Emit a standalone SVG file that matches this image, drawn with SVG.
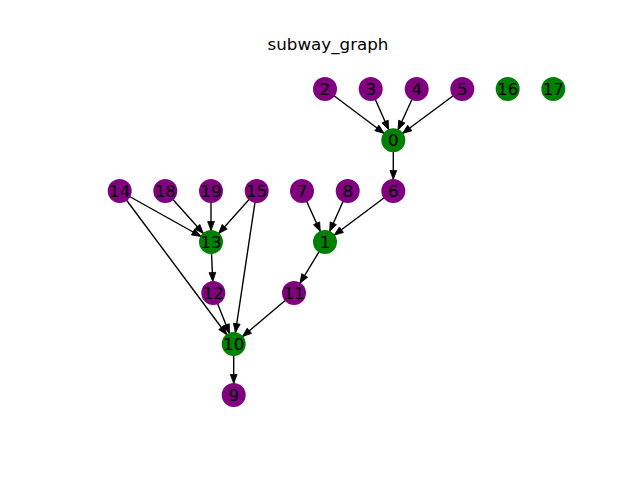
<svg xmlns="http://www.w3.org/2000/svg" width="640" height="480" viewBox="0 0 640 480">
  <style>
    .title { font-family: "DejaVu Sans", sans-serif; font-size: 16.7px; fill: #000; text-anchor: middle; }
    .edge { stroke: #000; stroke-width: 1.4; fill: none; marker-end: url(#arr); }
    .node circle { stroke: none; }
    .p circle { fill: #800080; }
    .g circle { fill: #008000; }
    .node text { font-family: "DejaVu Sans", sans-serif; font-size: 16.7px; fill: #000; text-anchor: middle; }
  </style>
  <defs>
    <!-- arrowhead sits on the node boundary (radius 12) -->
    <marker id="arr" markerUnits="userSpaceOnUse" markerWidth="30" markerHeight="10" refX="20.5" refY="0" orient="auto" overflow="visible">
      <path d="M0,-3.4 L9,0 L0,3.4 z" fill="#000" stroke="#000" stroke-width="0.8" stroke-linejoin="miter"/>
    </marker>
  </defs>
  <rect width="640" height="480" fill="#fff"/>
  <text class="title" x="328" y="50">subway_graph</text>

  <g id="edges">
    <line class="edge" x1="325" y1="89" x2="393.3" y2="140.3"/>
    <line class="edge" x1="370.7" y1="89" x2="393.3" y2="140.3"/>
    <line class="edge" x1="416.7" y1="89" x2="393.3" y2="140.3"/>
    <line class="edge" x1="462.3" y1="89" x2="393.3" y2="140.3"/>
    <line class="edge" x1="393.3" y1="140.3" x2="393.3" y2="191"/>
    <line class="edge" x1="393.3" y1="191" x2="325" y2="242"/>
    <line class="edge" x1="302" y1="191" x2="325" y2="242"/>
    <line class="edge" x1="347.7" y1="191" x2="325" y2="242"/>
    <line class="edge" x1="325" y1="242" x2="294" y2="293"/>
    <line class="edge" x1="294" y1="293" x2="233.7" y2="344"/>
    <line class="edge" x1="119.7" y1="191" x2="211" y2="242"/>
    <line class="edge" x1="165.3" y1="191" x2="211" y2="242"/>
    <line class="edge" x1="211" y1="191" x2="211" y2="242"/>
    <line class="edge" x1="256.7" y1="191" x2="211" y2="242"/>
    <line class="edge" x1="211" y1="242" x2="213.3" y2="293"/>
    <line class="edge" x1="213.3" y1="293" x2="233.7" y2="344"/>
    <line class="edge" x1="119.7" y1="191" x2="233.7" y2="344"/>
    <line class="edge" x1="256.7" y1="191" x2="233.7" y2="344"/>
    <line class="edge" x1="233.7" y1="344" x2="233.7" y2="395"/>
  </g>

  <g id="n2" class="node p"><circle cx="325" cy="89" r="12"/><text x="325" y="95.1">2</text></g>
  <g id="n3" class="node p"><circle cx="370.7" cy="89" r="12"/><text x="370.7" y="95.1">3</text></g>
  <g id="n4" class="node p"><circle cx="416.7" cy="89" r="12"/><text x="416.7" y="95.1">4</text></g>
  <g id="n5" class="node p"><circle cx="462.3" cy="89" r="12"/><text x="462.3" y="95.1">5</text></g>
  <g id="n16" class="node g"><circle cx="507.7" cy="89" r="12"/><text x="507.7" y="95.1">16</text></g>
  <g id="n17" class="node g"><circle cx="553.3" cy="89" r="12"/><text x="553.3" y="95.1">17</text></g>
  <g id="n0" class="node g"><circle cx="393.3" cy="140.3" r="12"/><text x="393.3" y="146.4">0</text></g>
  <g id="n6" class="node p"><circle cx="393.3" cy="191" r="12"/><text x="393.3" y="197.1">6</text></g>
  <g id="n14" class="node p"><circle cx="119.7" cy="191" r="12"/><text x="119.7" y="197.1">14</text></g>
  <g id="n18" class="node p"><circle cx="165.3" cy="191" r="12"/><text x="165.3" y="197.1">18</text></g>
  <g id="n19" class="node p"><circle cx="211" cy="191" r="12"/><text x="211" y="197.1">19</text></g>
  <g id="n15" class="node p"><circle cx="256.7" cy="191" r="12"/><text x="256.7" y="197.1">15</text></g>
  <g id="n7" class="node p"><circle cx="302" cy="191" r="12"/><text x="302" y="197.1">7</text></g>
  <g id="n8" class="node p"><circle cx="347.7" cy="191" r="12"/><text x="347.7" y="197.1">8</text></g>
  <g id="n13" class="node g"><circle cx="211" cy="242" r="12"/><text x="211" y="248.1">13</text></g>
  <g id="n1" class="node g"><circle cx="325" cy="242" r="12"/><text x="325" y="248.1">1</text></g>
  <g id="n12" class="node p"><circle cx="213.3" cy="293" r="12"/><text x="213.3" y="299.1">12</text></g>
  <g id="n11" class="node p"><circle cx="294" cy="293" r="12"/><text x="294" y="299.1">11</text></g>
  <g id="n10" class="node g"><circle cx="233.7" cy="344" r="12"/><text x="233.7" y="350.1">10</text></g>
  <g id="n9" class="node p"><circle cx="233.7" cy="395" r="12"/><text x="233.7" y="401.1">9</text></g>
</svg>
